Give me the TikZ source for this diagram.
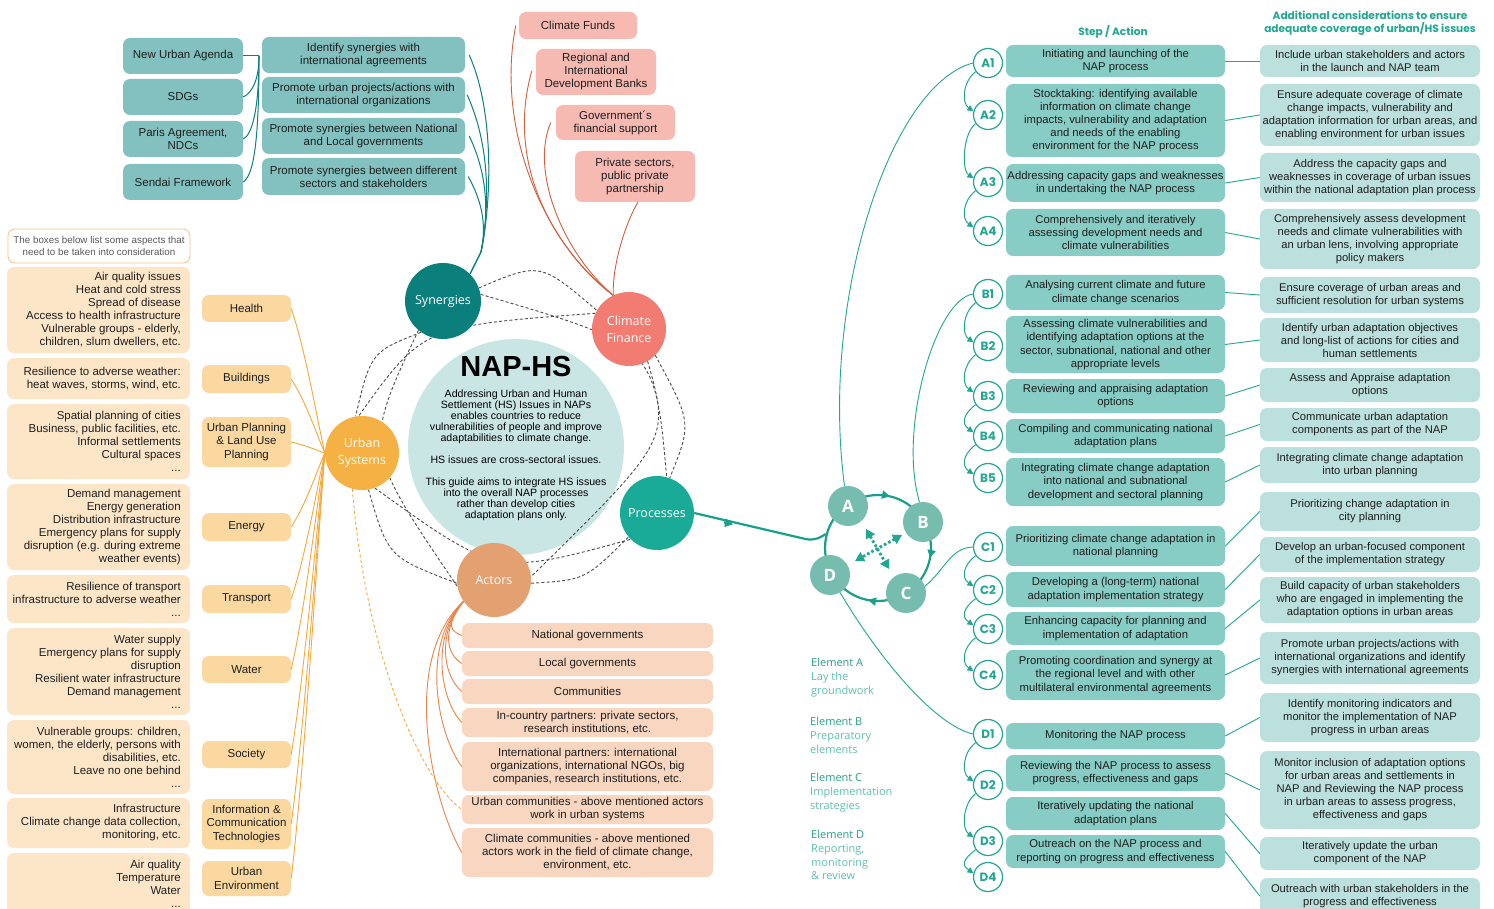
\documentclass[tikz,border=0pt]{standalone}
\usepackage{fontspec}
\setmainfont{Liberation Sans}
\newfontfamily\circfont{Open Sans}
\newfontfamily\popfont{Poppins}
\usetikzlibrary{arrows.meta}
\pgfdeclarelayer{back}
\pgfdeclarelayer{lines}
\pgfsetlayers{back,lines,main}

\definecolor{synbox}{HTML}{82C1C0}
\definecolor{synline}{HTML}{0E8080}
\definecolor{syncirc}{HTML}{0A7F7C}
\definecolor{pinkbox}{HTML}{F6BAB3}
\definecolor{cfline}{HTML}{D2603E}
\definecolor{cfcirc}{HTML}{F27C72}
\definecolor{napfill}{HTML}{C9E6E5}
\definecolor{uscirc}{HTML}{F5B143}
\definecolor{catbox}{HTML}{FAD8A0}
\definecolor{detbox}{HTML}{FDE6C8}
\definecolor{uline}{HTML}{F4A93C}
\definecolor{accirc}{HTML}{E3A071}
\definecolor{actbox}{HTML}{F8D6BF}
\definecolor{actline}{HTML}{E8854B}
\definecolor{prcirc}{HTML}{19AB98}
\definecolor{steal}{HTML}{22A792}
\definecolor{cStep}{HTML}{87CCC5}
\definecolor{cRight}{HTML}{BBE0DD}
\definecolor{cAbcd}{HTML}{76BDB0}
\definecolor{cRing}{HTML}{1A9F8B}
\definecolor{cLegT}{HTML}{2A9F89}
\definecolor{cLeg}{HTML}{5EC0AF}
\definecolor{cNote}{HTML}{F6C98A}
\definecolor{cTxt}{HTML}{1E1E1E}

\newcommand\mybox[7]{\node[#6, minimum width={(#4-#2)*1pt}, minimum height={(#5-#3)*1pt}] (#1) at ({(#2+#4)/2},{(#3+#5)/2}) {#7};}
\newcommand\mydet[6]{\node[detb, minimum width={(#4-#2)*1pt}, minimum height={(#5-#3)*1pt}] (#1) at ({(#2+#4)/2},{(#3+#5)/2}) {};
  \node[dett] (#1t) at ({#4-9},{(#3+#5)/2}) {#6};}

\tikzset{
  bx/.style={rounded corners=7pt, inner sep=0pt, align=center, text=cTxt},
  synl/.style={bx, fill=synbox, font=\fontsize{11.5}{13}\selectfont},
  synr/.style={bx, fill=synbox, font=\fontsize{11.5}{13}\selectfont},
  pinkb/.style={bx, fill=pinkbox, font=\fontsize{11.5}{13}\selectfont},
  catb/.style={bx, fill=catbox, font=\fontsize{11.5}{13.5}\selectfont},
  detb/.style={bx, fill=detbox},
  dett/.style={align=right, inner sep=0pt, text=cTxt, font=\fontsize{11.5}{13}\selectfont, anchor=east},
  noteb/.style={bx, fill=white, draw=cNote, line width=0.9pt, text=black!65, font=\fontsize{9.8}{11.5}\selectfont},
  actb/.style={bx, fill=actbox, font=\fontsize{11.5}{13}\selectfont},
  stepb/.style={bx, fill=cStep, font=\fontsize{11.3}{13.2}\selectfont},
  rightb/.style={bx, fill=cRight, font=\fontsize{11.2}{13}\selectfont},
  mc/.style={circle, minimum size=74pt, inner sep=0pt, text=white, align=center, font=\circfont\fontsize{12.5}{17}\selectfont},
  stepc/.style={circle, draw=steal, line width=1.2pt, fill=white, minimum size=29pt, inner sep=0pt, text=steal, font=\popfont\bfseries\fontsize{12}{12}\selectfont},
  abc/.style={circle, fill=cAbcd, minimum size=40pt, inner sep=0pt, text=white, font=\circfont\bfseries\fontsize{17}{17}\selectfont},
  synln/.style={draw=synline, line width=1pt},
  cfln/.style={draw=cfline, line width=0.9pt},
  uln/.style={draw=uline, line width=0.9pt},
  actln/.style={draw=actline, line width=0.9pt},
  gd/.style={draw=black!70, dash pattern=on 3pt off 2.2pt, line width=0.9pt},
  sln/.style={draw=steal, line width=0.9pt},
  sarr/.style={draw=steal, line width=1pt, -{Triangle[length=6pt,width=6pt]}},
  ringl/.style={draw=cRing, line width=2.2pt},
  tipc/.style={draw=cRing, line width=2.2pt, -{Triangle[length=8pt,width=8pt]}},
  dotarr/.style={draw=steal, line width=2.8pt, dash pattern=on 2.6pt off 2.2pt, {Triangle[length=9pt,width=10pt]}-{Triangle[length=9pt,width=10pt]}},
  leg/.style={align=left, inner sep=0pt, anchor=north west, text=cLeg, font=\circfont\fontsize{11}{13.8}\selectfont},
  hdr/.style={align=center, inner sep=0pt, text=steal, font=\popfont\bfseries\fontsize{10.6}{13}\selectfont},
}

\begin{document}
\begin{tikzpicture}[x=1pt,y=-1pt]
\useasboundingbox (0,0) rectangle (1494,909);
\begin{pgfonlayer}{back}
\fill[white] (0,0) rectangle (1494,909);
\end{pgfonlayer}

% ---------------- Synergies boxes
\mybox{nua}{123}{38}{243}{74}{synl}{New Urban Agenda}
\mybox{sdg}{123}{79}{243}{115}{synl}{SDGs}
\mybox{paris}{123}{121}{243}{157}{synl}{Paris Agreement,\\NDCs}
\mybox{sendai}{123}{164}{243}{200}{synl}{Sendai Framework}
\mybox{sy1}{262}{37}{465}{73}{synr}{Identify synergies with\\international agreements}
\mybox{sy2}{262}{77}{465}{113}{synr}{Promote urban projects/actions with\\international organizations}
\mybox{sy3}{262}{118}{465}{154}{synr}{Promote synergies between National\\and Local governments}
\mybox{sy4}{262}{158}{465}{195}{synr}{Promote synergies between different\\sectors and stakeholders}

\draw[synln] (nua.east) -- (259,56) coordinate (brk);
\draw[synln] (brk) .. controls (259,80) and (252,93) .. (sdg.east);
\draw[synln] (brk) .. controls (259,110) and (252,135) .. (paris.east);
\draw[synln] (brk) .. controls (259,140) and (254,175) .. (sendai.east);

% ---------------- Climate finance boxes
\mybox{cf1}{519}{12}{637}{39}{pinkb}{Climate Funds}
\mybox{cf2}{536}{49}{656}{95}{pinkb}{Regional and\\International\\Development Banks}
\mybox{cf3}{556}{105}{675}{140}{pinkb}{Government´s\\financial support}
\mybox{cf4}{575}{151}{695}{202}{pinkb}{Private sectors,\\public private\\partnership}

% ---------------- central
\begin{pgfonlayer}{back}
\node[circle, fill=napfill, minimum size=216pt, inner sep=0pt] (nap) at (516,447) {};
\end{pgfonlayer}

\node[mc, fill=syncirc, minimum size=76pt] (syn) at (443,301) {Synergies};
\node[mc, fill=cfcirc] (cf) at (629,329) {Climate\\Finance};
\node[mc, fill=prcirc] (pr) at (657,513) {Processes};
\node[mc, fill=accirc] (ac) at (494,580) {Actors};
\node[mc, fill=uscirc] (us) at (362,453) {Urban\\Systems};

\node[inner sep=0pt, font=\bfseries\fontsize{29}{30}\selectfont] (naptitle) at (516,367) {NAP-HS};
\node[inner sep=0pt, align=center, font=\fontsize{10.6}{11}\selectfont] (napbody) at (516,455)
 {Addressing Urban and Human\\Settlement (HS) Issues in NAPs\\enables countries to reduce\\vulnerabilities of people and improve\\adaptabilities to climate change.\\[11pt]HS issues are cross-sectoral issues.\\[11pt]This guide aims to integrate HS issues\\into the overall NAP processes\\rather than develop cities\\adaptation plans only.};

% dashed network
\begin{pgfonlayer}{lines}
\draw[gd] (syn.20) .. controls (540,262) .. (cf.150);
\draw[gd] (syn.10) .. controls (655,345) .. (pr.75);
\draw[gd] (cf.155) .. controls (423,326) .. (us.95);
\draw[gd] (cf.-60) .. controls (670,440) .. (ac.5);
\draw[gd] (cf.-45) .. controls (692,423) .. (pr.70);
\draw[gd] (syn.-130) .. controls (363,448) .. (ac.190);
\draw[gd] (syn.-125) .. controls (371,352) .. (us.100);
\draw[gd] (us.-70) .. controls (497,576) .. (pr.-135);
\draw[gd] (us.-80) .. controls (388,557) .. (ac.185);
\draw[gd] (ac.-5) .. controls (585,580) .. (pr.-140);
\end{pgfonlayer}

% synergy lines
\coordinate (synhub) at (481,252);
\draw[synln] ([xshift=4pt]sy1.east) .. controls (494,110) and (492,200) .. (synhub);
\draw[synln] ([xshift=2pt]sy2.east) .. controls (490,145) and (490,205) .. (synhub);
\draw[synln] ([xshift=4pt]sy3.east) .. controls (488,175) and (489,215) .. (synhub);
\draw[synln] ([xshift=3pt]sy4.east) .. controls (484,205) and (486,228) .. (synhub);
\draw[synln, line width=1.4pt] (synhub) -- (syn.45);

% climate finance lines
\coordinate (cfhub) at (cf.115);
\draw[cfln] ([xshift=-3pt]cf1.west) .. controls (495,130) and (545,245) .. (cfhub);
\draw[cfln] ([xshift=-4pt,yshift=1pt]cf2.west) .. controls (505,165) and (555,250) .. (cfhub);
\draw[cfln] ([xshift=-5pt]cf3.west) .. controls (530,170) and (562,252) .. (cfhub);
\draw[cfln] ([xshift=3pt]cf4.south) .. controls (628,218) and (612,262) .. (cfhub);

% ---------------- Urban systems
\mybox{dnote}{8}{229}{190}{263}{noteb}{The boxes below list some aspects that\\need to be taken into consideration}
\mydet{dhealth}{7}{267}{190}{353}{Air quality issues\\Heat and cold stress\\Spread of disease\\Access to health infrastructure\\Vulnerable groups - elderly,\\children, slum dwellers, etc.}
\mydet{dbuild}{7}{358}{190}{399}{Resilience to adverse weather:\\heat waves, storms, wind, etc.}
\mydet{dupl}{7}{404}{190}{479}{Spatial planning of cities\\Business, public facilities, etc.\\Informal settlements\\Cultural spaces\\...}
\mydet{denergy}{7}{484}{190}{570}{Demand management\\Energy generation\\Distribution infrastructure\\Emergency plans for supply\\disruption (e.g. during extreme\\weather events)}
\mydet{dtransp}{7}{575}{190}{623}{Resilience of transport\\infrastructure to adverse weather\\...}
\mydet{dwater}{7}{628}{190}{715}{Water supply\\Emergency plans for supply\\disruption\\Resilient water infrastructure\\Demand management\\...}
\mydet{dsoc}{7}{720}{190}{794}{Vulnerable groups: children,\\women, the elderly, persons with\\disabilities, etc.\\Leave no one behind\\...}
\mydet{dict}{7}{798}{190}{848}{Infrastructure\\Climate change data collection,\\monitoring, etc.}
\mydet{duenv}{7}{853}{190}{915}{Air quality\\Temperature\\Water\\...}

\mybox{health}{202}{295}{291}{322}{catb}{Health}
\mybox{build}{202}{365}{291}{393}{catb}{Buildings}
\mybox{upl}{202}{417}{291}{467}{catb}{Urban Planning\\\& Land Use\\Planning}
\mybox{energy}{202}{513}{291}{541}{catb}{Energy}
\mybox{transp}{202}{585}{291}{613}{catb}{Transport}
\mybox{water}{202}{656}{291}{683}{catb}{Water}
\mybox{society}{202}{741}{291}{768}{catb}{Society}
\mybox{ict}{202}{799}{291}{849}{catb}{Information \&\\Communication\\Technologies}
\mybox{uenv}{202}{861}{291}{896}{catb}{Urban\\Environment}

\foreach \n/\yy in {health/308.5, build/379, upl/442, energy/527, transp/599, water/669.5, society/754.5, ict/824, uenv/878.5}{
  \draw[uln] (\n.east) .. controls (306,{\yy+0.3*(453-\yy)}) and (318,{453-0.2*(453-\yy)}) .. (us.west);
}

% ---------------- Actors
\mybox{a1}{462}{623}{713}{648}{actb}{National governments}
\mybox{a2}{462}{651}{713}{676}{actb}{Local governments}
\mybox{a3}{462}{679}{713}{704}{actb}{Communities}
\mybox{a4}{462}{708}{713}{737}{actb}{In-country partners: private sectors,\\research institutions, etc.}
\mybox{a5}{462}{742}{713}{791}{actb}{International partners: international\\organizations, international NGOs, big\\companies, research institutions, etc.}
\mybox{a6}{462}{795}{713}{824}{actb}{Urban communities - above mentioned actors\\work in urban systems}
\mybox{a7}{462}{828}{713}{877}{actb}{Climate communities - above mentioned\\actors work in the field of climate change,\\environment, etc.}

\foreach \n/\yy in {a1/635.5, a2/663.5, a3/691.5, a4/722.5, a5/766.5, a7/852.5}{
  \draw[actln] (ac.215) .. controls ({462-0.25*(\yy-600)},{610+0.2*(\yy-600)}) and ({445-0.05*(\yy-600)},{\yy-0.2*(\yy-600)}) .. (\n.west);
}
\draw[uln, dash pattern=on 3pt off 2.5pt] (us.-105) .. controls (365,650) and (420,780) .. (a6.west);

% ---------------- NAP cycle
\node[circle, draw=cRing, line width=2.2pt, minimum size=106pt, inner sep=0pt] (ring) at (878,548) {};
\draw[ringl, rounded corners=8pt] (pr.east) -- (814,541) -- (ring.165);
\coordinate (pt1) at (724,522.5);
\coordinate (pt2) at (733,524.4);
\draw[tipc] (pt1) -- (pt2);

\node[abc] (A) at (848,506) {A};
\node[abc] (B) at (923,522) {B};
\node[abc] (C) at (906,593) {C};
\node[abc] (D) at (830,575) {D};

\coordinate (t1a) at (886.1,495.5); \coordinate (t1b) at (890,496.4);
\coordinate (t2a) at (930.8,554.1); \coordinate (t2b) at (930,558);
\coordinate (t3a) at (871.9,600.8); \coordinate (t3b) at (868,600);
\draw[tipc] (t1a) -- (t1b);
\draw[tipc] (t2a) -- (t2b);
\draw[tipc] (t3a) -- (t3b);

\coordinate (dA1) at (866,529); \coordinate (dA2) at (889,569);
\coordinate (dB1) at (902,535); \coordinate (dB2) at (855,561);
\draw[dotarr] (dA1) -- (dA2);
\draw[dotarr] (dB1) -- (dB2);

% legend
\node[leg] (legA) at (811,658) {{\color{cLegT}Element A}\\Lay the\\groundwork};
\node[leg] (legB) at (810,717) {{\color{cLegT}Element B}\\Preparatory\\elements};
\node[leg] (legC) at (810,773) {{\color{cLegT}Element C}\\Implementation\\strategies};
\node[leg] (legD) at (811,830) {{\color{cLegT}Element D}\\Reporting,\\monitoring\\\& review};

% headers
\node[hdr] (hstep) at (1113,32) {Step / Action};
\node[hdr] (hadd) at (1370,23) {Additional considerations to ensure\\adequate coverage of urban/HS issues};

% step circles
\foreach \n/\yy in {A1/63, A2/115, A3/182, A4/231, B1/294, B2/346, B3/396, B4/436, B5/478, C1/547, C2/590, C3/629, C4/675, D1/734, D2/785, D3/841, D4/877}{
  \node[stepc] (\n) at (988,\yy) {\n};
}
\foreach \p/\q in {A1/A2, A2/A3, A3/A4, B1/B2, B2/B3, B3/B4, B4/B5, C1/C2, C2/C3, C3/C4, D1/D2, D2/D3, D3/D4}{
  \draw[sarr] (\p.215) .. controls +(-13,10) and +(-12,-8) .. (\q.165);
}

% element to step lines
\draw[sln] (A.100) .. controls (820,300) and (890,85) .. (A1.west);
\draw[sln] (B.100) .. controls (898,430) and (935,300) .. (B1.west);
\draw[sln] (C.20) .. controls (945,570) and (950,548) .. (C1.west);
\draw[sln] (D.-60) .. controls (880,660) and (935,725) .. (D1.west);

% step boxes
\mybox{sA1}{1006}{45}{1225}{77}{stepb}{Initiating and launching of the\\NAP process}
\mybox{sA2}{1006}{84}{1225}{157}{stepb}{Stocktaking: identifying available\\information on climate change\\impacts, vulnerability and adaptation\\and needs of the enabling\\environment for the NAP process}
\mybox{sA3}{1006}{164}{1225}{202}{stepb}{Addressing capacity gaps and weaknesses\\in undertaking the NAP process}
\mybox{sA4}{1006}{209}{1225}{256}{stepb}{Comprehensively and iteratively\\assessing development needs and\\climate vulnerabilities}
\mybox{sB1}{1006}{275}{1225}{310}{stepb}{Analysing current climate and future\\climate change scenarios}
\mybox{sB2}{1006}{316}{1225}{373}{stepb}{Assessing climate vulnerabilities and\\identifying adaptation options at the\\sector, subnational, national and other\\appropriate levels}
\mybox{sB3}{1006}{379}{1225}{413}{stepb}{Reviewing and appraising adaptation\\options}
\mybox{sB4}{1006}{419}{1225}{453}{stepb}{Compiling and communicating national\\adaptation plans}
\mybox{sB5}{1006}{458}{1225}{506}{stepb}{Integrating climate change adaptation\\into national and subnational\\development and sectoral planning}
\mybox{sC1}{1006}{526}{1225}{566}{stepb}{Prioritizing climate change adaptation in\\national planning}
\mybox{sC2}{1006}{572}{1225}{607}{stepb}{Developing a (long-term) national\\adaptation implementation strategy}
\mybox{sC3}{1006}{612}{1225}{645}{stepb}{Enhancing capacity for planning and\\implementation of adaptation}
\mybox{sC4}{1006}{650}{1225}{700}{stepb}{Promoting coordination and synergy at\\the regional level and with other\\multilateral environmental agreements}
\mybox{sD1}{1006}{723}{1225}{749}{stepb}{Monitoring the NAP process}
\mybox{sD2}{1006}{755}{1225}{791}{stepb}{Reviewing the NAP process to assess\\progress, effectiveness and gaps}
\mybox{sD3}{1006}{797}{1225}{830}{stepb}{Iteratively updating the national\\adaptation plans}
\mybox{sD4}{1006}{835}{1225}{868}{stepb}{Outreach on the NAP process and\\reporting on progress and effectiveness}

% right boxes
\mybox{rA1}{1260}{45}{1480}{77}{rightb}{Include urban stakeholders and actors\\in the launch and NAP team}
\mybox{rA2}{1260}{84}{1480}{146}{rightb}{Ensure adequate coverage of climate\\change impacts, vulnerability and\\adaptation information for urban areas, and\\enabling environment for urban issues}
\mybox{rA3}{1260}{153}{1480}{202}{rightb}{Address the capacity gaps and\\weaknesses in coverage of urban issues\\within the national adaptation plan process}
\mybox{rA4}{1260}{209}{1480}{269}{rightb}{Comprehensively assess development\\needs and climate vulnerabilities with\\an urban lens, involving appropriate\\policy makers}
\mybox{rB1}{1260}{277}{1480}{313}{rightb}{Ensure coverage of urban areas and\\sufficient resolution for urban systems}
\mybox{rB2}{1260}{318}{1480}{362}{rightb}{Identify urban adaptation objectives\\and long-list of actions for cities and\\human settlements}
\mybox{rB3}{1260}{368}{1480}{402}{rightb}{Assess and Appraise adaptation\\options}
\mybox{rB4}{1260}{408}{1480}{441}{rightb}{Communicate urban adaptation\\components as part of the NAP}
\mybox{rB5}{1260}{447}{1480}{483}{rightb}{Integrating climate change adaptation\\into urban planning}
\mybox{rC1}{1260}{492}{1480}{531}{rightb}{Prioritizing change adaptation in\\city planning}
\mybox{rC2}{1260}{537}{1480}{572}{rightb}{Develop an urban-focused component\\of the implementation strategy}
\mybox{rC3}{1260}{577}{1480}{623}{rightb}{Build capacity of urban stakeholders\\who are engaged in implementing the\\adaptation options in urban areas}
\mybox{rC4}{1260}{632}{1480}{684}{rightb}{Promote urban projects/actions with\\international organizations and identify\\synergies with international agreements}
\mybox{rD1}{1260}{693}{1480}{742}{rightb}{Identify monitoring indicators and\\monitor the implementation of NAP\\progress in urban areas}
\mybox{rD2}{1260}{751}{1480}{829}{rightb}{Monitor inclusion of adaptation options\\for urban areas and settlements in\\NAP and Reviewing the NAP process\\in urban areas to assess progress,\\effectiveness and gaps}
\mybox{rD3}{1260}{837}{1480}{870}{rightb}{Iteratively update the urban\\component of the NAP}
\mybox{rD4}{1260}{878}{1480}{914}{rightb}{Outreach with urban stakeholders in the\\progress and effectiveness}

\foreach \n in {A1,A2,A3,A4,B1,B2,B3,B4,B5,C1,C2,C3,C4,D1,D2,D3,D4}{
  \draw[sln] (s\n.east) -- (r\n.west);
}
\end{tikzpicture}
\end{document}
